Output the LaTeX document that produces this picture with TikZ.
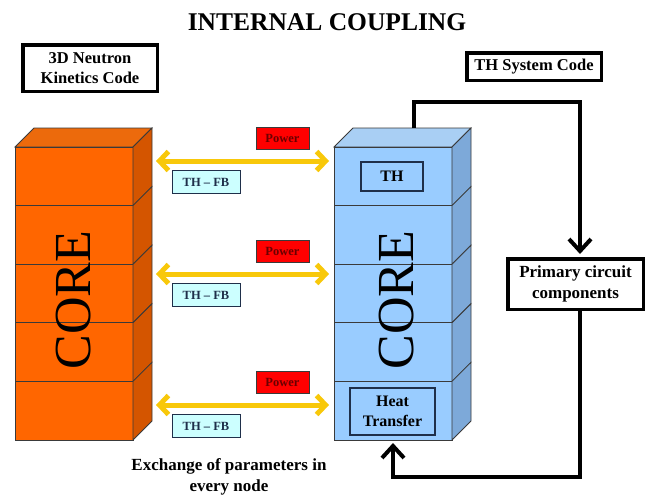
\documentclass[tikz,border=0pt]{standalone}
\usepackage{fontspec}
\setmainfont{Liberation Serif}
\usetikzlibrary{arrows.meta,positioning}

\definecolor{orfront}{HTML}{FF6600}
\definecolor{orside}{HTML}{D45500}
\definecolor{ortop}{HTML}{EC6A0C}
\definecolor{blfront}{HTML}{99CCFF}
\definecolor{blside}{HTML}{7DA9D9}
\definecolor{bltop}{HTML}{A9CFF4}
\definecolor{edge}{HTML}{3A3A3A}
\definecolor{xyellow}{HTML}{F8C80A}
\definecolor{pwtext}{HTML}{6A0000}
\definecolor{fbfill}{HTML}{CCFFFF}
\definecolor{inedge}{HTML}{1F2F4A}

\begin{document}
\begin{tikzpicture}[
  x=1pt, y=-1pt,
  codebox/.style={draw, line width=3.5pt, align=center, inner sep=0pt, font=\bfseries\fontsize{16.5}{20}\selectfont},
  inbox/.style={draw=inedge, line width=1.5pt, align=center, inner sep=0pt, font=\bfseries\fontsize{16}{20}\selectfont},
  pwbox/.style={draw=edge, fill=red, text=pwtext, minimum width=53, minimum height=22, inner sep=0pt, font=\bfseries\fontsize{12.5}{14}\selectfont},
  fbbox/.style={draw=inedge, line width=1pt, fill=fbfill, text=inedge, minimum width=68, minimum height=23, inner sep=0pt, font=\bfseries\fontsize{12.5}{14}\selectfont},
  corelbl/.style={rotate=90, inner sep=0pt, font=\fontsize{52}{52}\selectfont},
  xarr/.style={{Straight Barb[length=9pt,width=19pt]}-{Straight Barb[length=9pt,width=19pt]}, line width=5pt, xyellow},
  fbarr/.style={-{Straight Barb[length=12pt,width=22pt]}, line width=4pt, shorten >=3pt}
]
\useasboundingbox (0,0) rectangle (651,498);

% title and code boxes
\node[font=\bfseries\fontsize{25.5}{30}\selectfont] (title) at (327,22) {INTERNAL COUPLING};
\node[codebox, minimum width=134.5, minimum height=46.5] (nkcode) at (90,68) {3D Neutron\\Kinetics Code};
\node[codebox, minimum width=134.5, minimum height=27.5] (thcode) at (534,66.5) {TH System Code};

% the two cores
\foreach \x/\fr/\sd/\tp in {15/orfront/orside/ortop, 334/blfront/blside/bltop} {
  \filldraw[fill=\tp, draw=edge, line width=0.8pt] (\x,147) -- ++(19,-19) -- ++(118,0) -- ++(-19,19) -- cycle;
  \foreach \i in {0,...,4} {
    \filldraw[fill=\fr, draw=edge, line width=0.8pt] (\x,147+58.6*\i) rectangle ++(118,58.6);
    \filldraw[fill=\sd, draw=edge, line width=0.8pt] (\x+118,147+58.6*\i) -- ++(19,-19) -- ++(0,58.6) -- ++(-19,19) -- cycle;
  }
}
\node[corelbl] (ocore) at (74,300) {CORE};
\node[corelbl] (bcore) at (397,300) {CORE};
\node[inbox, minimum width=62, minimum height=29] (th) at (392,176.5) {TH};
\node[inbox, minimum width=85, minimum height=47] (heat) at (392.5,411.5) {Heat\\Transfer};
\coordinate (thtop) at (414,128);
\coordinate (bbot) at (393,440);

% exchange in every node
\foreach \y [count=\n] in {161,274,405} {
  \coordinate (l\n) at (156,\y);
  \coordinate (r\n) at (329,\y);
  \draw[xarr] (l\n) -- (r\n);
  \node[pwbox] (pw\n) at (282.5,\y-23) {Power};
  \node[fbbox] (fb\n) at (206,\y+21) {TH -- FB};
}
\node[align=center, font=\bfseries\fontsize{17}{21}\selectfont] (xnote) at (229,477) {Exchange of parameters in\\every node};

% system loop
\node[codebox, minimum width=135.5, minimum height=50.5, font=\bfseries\fontsize{17}{21}\selectfont] (prim) at (575.5,284) {Primary circuit\\components};
\draw[fbarr] (thtop) -- ++(0,-26) -| ([xshift=4.5pt]prim.north);
\draw[fbarr] ([xshift=4.5pt]prim.south) -- ++(0,166) -| (bbot);
\end{tikzpicture}
\end{document}
